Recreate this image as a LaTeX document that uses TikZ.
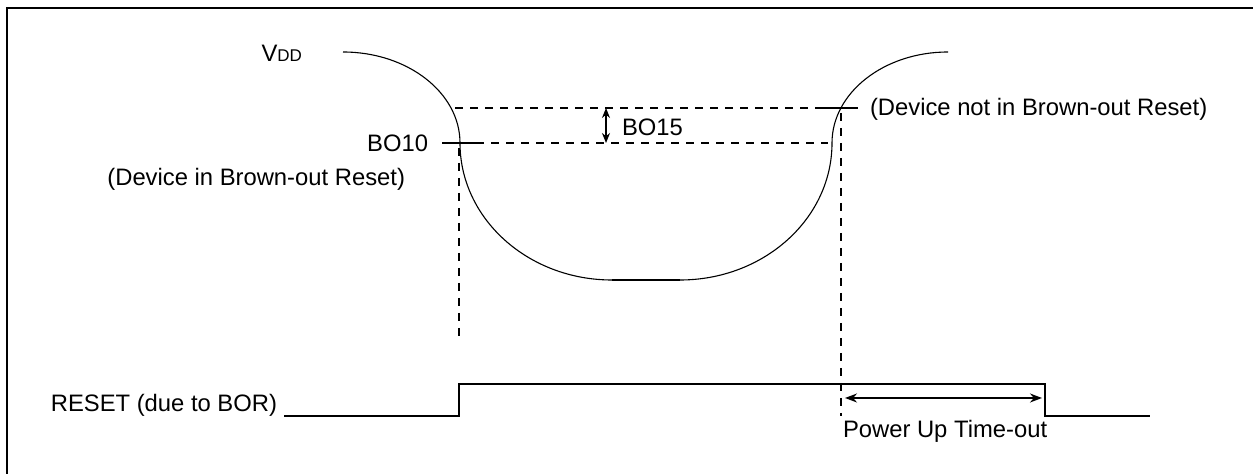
\documentclass[tikz,border=0pt]{standalone}
\usepackage{fontspec}
\setmainfont{Liberation Sans}
\usepackage{tikz}
\usetikzlibrary{arrows.meta,positioning,calc}
\tikzset{
  vframe/.style={line width=1.1pt,draw=black},
  vcurve/.style={line width=0.55pt,draw=black},
  vflat/.style={line width=1pt,draw=black},
  vguide/.style={line width=0.9pt,draw=black,dash pattern=on 4pt off 3.5pt},
  vtick/.style={line width=0.9pt,draw=black},
  vsig/.style={line width=1.1pt,draw=black},
  varr/.style={{Stealth[length=5pt,width=4pt]}-{Stealth[length=5pt,width=4pt]},line width=0.8pt,draw=black},
  vlab/.style={inner sep=0pt,outer sep=0pt}
}

\begin{document}
\begin{tikzpicture}[x=0.5pt,y=-0.5pt,font=\fontsize{11.9}{14}\selectfont]
  \useasboundingbox (0,0) rectangle (1253,474);
  % frame (only left and top edges show)
  \coordinate (fbl) at (7,474);
  \coordinate (ftl) at (7,8);
  \coordinate (ftr) at (1253,8);
  \draw[vframe] (fbl) -- (ftl) -- (ftr);
  % VDD dip
  \coordinate (vin) at (343,52);
  \coordinate (lowl) at (612,280);
  \coordinate (lowr) at (680,280);
  \coordinate (vout) at (948,52);
  \draw[vcurve] (vin) arc[start angle=-90,end angle=0,x radius=117,y radius=91]
     arc[start angle=180,end angle=90,x radius=152,y radius=137];
  \draw[vflat] (lowl) -- (lowr);
  \draw[vcurve] (lowr) arc[start angle=90,end angle=0,x radius=152,y radius=137]
     arc[start angle=180,end angle=270,x radius=116,y radius=91];
  \node[vlab,anchor=base east] (vdd) at (302,62) {V{\fontsize{8.5}{10}\selectfont DD}};
  % thresholds
  \coordinate (hia) at (455,108);
  \coordinate (hib) at (822,108);
  \coordinate (hic) at (858,108);
  \coordinate (loa) at (442,143);
  \coordinate (lob) at (476,143);
  \coordinate (loc) at (828,143);
  \draw[vguide] (hia) -- (hib);
  \draw[vtick] (hib) -- (hic);
  \draw[vtick] (loa) -- (lob);
  \draw[vguide] (lob) -- (loc);
  \coordinate (bot) at (606,108);
  \coordinate (bob) at (606,143);
  \draw[varr] (bot) -- (bob);
  \node[vlab,anchor=west] (bo15) at (622,127) {BO15};
  \node[vlab,anchor=east] (bo10) at (428,143) {BO10};
  \node[vlab,anchor=east] (inbor) at (405,179) {(Device in Brown-out Reset)};
  \node[vlab,anchor=west] (notbor) at (870,109) {(Device not in Brown-out Reset)};
  % drop lines
  \coordinate (dla) at (459,148);
  \coordinate (dlb) at (459,340);
  \coordinate (dra) at (841,113);
  \coordinate (drb) at (841,416);
  \draw[vguide] (dla) -- (dlb);
  \draw[vguide] (dra) -- (drb);
  % reset signal
  \coordinate (s0) at (284,416);
  \coordinate (s1) at (459,416);
  \coordinate (s2) at (459,384);
  \coordinate (s3) at (1045,384);
  \coordinate (s4) at (1045,416);
  \coordinate (s5) at (1150,416);
  \draw[vsig] (s0) -- (s1) -- (s2) -- (s3) -- (s4) -- (s5);
  \node[vlab,anchor=east] (rst) at (277,405) {RESET (due to BOR)};
  \coordinate (pua) at (845,398);
  \coordinate (pub) at (1042,398);
  \draw[varr,{Stealth[length=6pt,width=4.5pt]}-{Stealth[length=6pt,width=4.5pt]}] (pua) -- (pub);
  \node[vlab,anchor=base west] (put) at (843,438) {Power Up Time-out};
\end{tikzpicture}
\end{document}
